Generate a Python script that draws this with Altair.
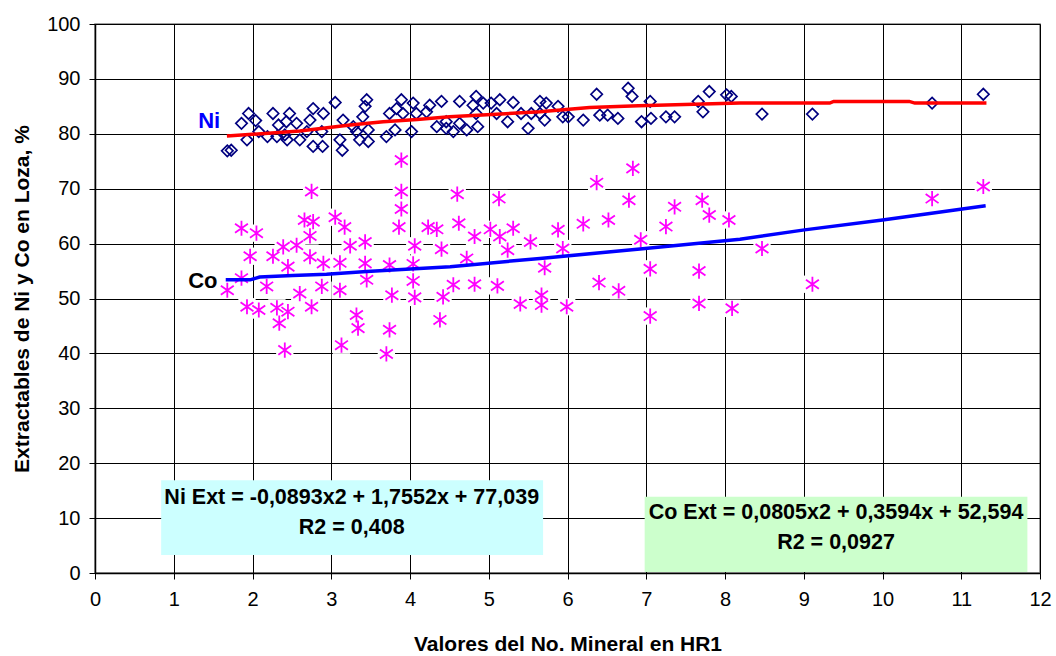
import altair as alt
import pandas as pd

# ---------------- data ----------------
ni_x = [1.68, 1.73, 1.86, 1.95, 2.04, 1.93, 2.08, 2.19, 2.26, 2.33, 2.31, 2.41, 2.47, 2.43, 2.56, 2.44, 2.60,
        2.77, 2.73, 2.90, 2.77, 2.89, 2.69, 2.88, 3.05, 3.15, 3.11, 3.14, 3.28, 3.32, 3.36, 3.47, 3.45, 3.43,
        3.47, 3.40, 3.74, 3.70, 3.89, 3.83, 3.91, 3.81, 4.04, 4.02, 4.08, 4.25, 4.21, 4.34, 4.40, 4.46,
        4.46, 4.55, 4.63, 4.63, 4.72, 4.84, 4.80, 4.84, 4.86, 4.93, 5.03, 5.10, 5.14, 5.24, 5.31, 5.41, 5.50,
        5.54, 5.65, 5.73, 5.65, 5.71, 5.88, 5.94, 6.01, 6.20, 6.37, 6.41, 6.51, 6.64, 6.77, 6.82, 6.94, 7.05,
        7.06, 7.25, 7.36, 7.66, 7.72, 7.80, 8.02, 8.08, 8.47, 9.11, 10.63, 11.28]
ni_y = [76.9, 77.0, 81.9, 83.7, 82.4, 78.9, 80.4, 79.5, 83.7, 81.6, 79.5, 79.8, 83.7, 82.2, 81.9, 78.9, 78.9,
        84.6, 82.5, 83.7, 77.7, 77.7, 80.4, 80.4, 85.7, 82.5, 78.9, 77.0, 81.3, 80.4, 78.9, 78.6, 86.2, 85.0,
        80.7, 83.1, 83.7, 79.5, 86.2, 84.6, 83.7, 80.7, 85.6, 80.4, 83.7, 85.2, 84.0, 81.3, 85.9, 81.0,
        82.2, 80.4, 85.9, 81.9, 80.7, 86.8, 85.2, 83.7, 81.3, 85.6, 85.6, 83.7, 86.2, 82.2, 85.7, 83.7, 81.0,
        83.7, 85.9, 85.6, 83.7, 82.5, 85.0, 83.1, 83.1, 82.5, 87.2, 83.4, 83.4, 82.8, 88.3, 86.8, 82.2, 85.9,
        82.8, 83.1, 83.1, 85.9, 84.0, 87.7, 87.1, 86.8, 83.6, 83.6, 85.6, 87.2]

co_x = [3.89, 2.75, 3.89, 3.89, 3.05, 2.66, 2.77, 1.86, 2.05, 2.73, 3.17, 3.86, 4.34, 4.23, 2.56, 2.39, 3.24,
        3.43, 4.06, 4.40, 1.97, 2.26, 2.73, 3.11, 2.90, 3.43, 3.74, 4.04,
        1.68, 1.86, 2.18, 2.45, 2.60, 1.93, 2.08, 2.31, 2.34, 2.45, 2.41, 2.75, 2.88, 3.11, 3.45, 3.32, 3.34,
        3.13, 3.77, 3.74, 3.70, 4.04, 4.06, 4.38, 4.42,
        6.83, 6.37, 4.60, 5.13, 6.78, 7.36, 7.71, 7.80, 8.05, 4.62, 6.52, 6.20, 7.25, 5.88, 5.31, 5.02, 4.82,
        5.14, 5.53, 5.24, 5.94, 6.93, 4.72, 5.71, 7.05, 7.67,
        4.55, 4.82, 5.11, 6.40, 6.65, 5.40, 5.67, 5.67, 5.99, 7.05, 7.67, 8.09,
        11.28, 10.63, 8.47, 9.11]
co_y = [75.2, 69.5, 69.5, 66.3, 64.8, 64.3, 64.0, 62.8, 61.9, 61.4, 63.0, 63.0, 62.6, 63.0, 59.7, 59.4, 59.6,
        60.3, 59.6, 59.0, 57.7, 57.7, 57.6, 56.5, 56.4, 56.4, 56.1, 56.3,
        51.5, 53.7, 52.2, 55.8, 50.9, 48.5, 47.9, 48.3, 45.5, 47.6, 40.6, 48.5, 52.2, 51.5, 53.4, 47.0, 44.6,
        41.5, 50.6, 44.3, 39.9, 53.2, 50.2, 46.1, 50.3,
        73.7, 71.1, 69.0, 68.2, 67.9, 66.7, 67.9, 65.2, 64.3, 63.7, 64.3, 63.6, 63.1, 62.5, 62.8, 62.6, 61.3,
        61.3, 60.3, 58.8, 59.1, 60.7, 57.3, 55.6, 55.4, 55.0,
        52.5, 52.6, 52.3, 52.9, 51.4, 49.0, 50.6, 48.8, 48.5, 46.8, 49.1, 48.2,
        70.4, 68.2, 59.1, 52.6]

ni_trend_x = [1.675, 2.60, 3.24, 3.66, 4.09, 4.50, 5.65, 6.28, 6.90, 8.19, 9.33, 9.38, 10.34, 10.41, 11.32]
ni_trend_y = [79.6, 80.5, 81.6, 82.2, 82.6, 83.1, 84.0, 84.8, 85.1, 85.6, 85.6, 85.9, 85.9, 85.6, 85.6]

co_trend_x = [1.66, 1.97, 2.09, 2.51, 2.94, 3.45, 3.78, 4.51, 5.65, 6.92, 8.19, 9.01, 10.0, 10.6, 11.31]
co_trend_y = [53.4, 53.4, 53.9, 54.2, 54.4, 54.9, 55.2, 55.8, 57.3, 59.0, 60.8, 62.5, 64.3, 65.5, 66.9]

x_ticks = list(range(0, 13))
y_ticks = list(range(0, 101, 10))

label_text = ["Ni", "Co"]
label_x = [1.45, 1.37]
label_y = [82.3, 53.2]
label_color = ["#0000FF", "#000000"]

box_x1 = [0.84, 6.98]
box_x2 = [5.69, 11.84]
box_y1 = [16.9, 13.9]
box_y2 = [3.3, 0.2]
box_fill = ["#CCFFFF", "#CCFFCC"]

eq_text = ["Ni Ext = -0,0893x2 + 1,7552x + 77,039", "R2 = 0,408",
           "Co Ext = 0,0805x2 + 0,3594x + 52,594", "R2 = 0,0927"]
eq_x = [3.26, 3.26, 9.41, 9.41]
eq_y = [13.7, 8.2, 10.9, 5.5]

FONT = "Liberation Sans, Arial, sans-serif"

# ---------------- frames ----------------
ni_df = pd.DataFrame({"x": ni_x, "y": ni_y})
co_df = pd.DataFrame({"x": co_x, "y": co_y})
ni_tr = pd.DataFrame({"x": ni_trend_x, "y": ni_trend_y})
co_tr = pd.DataFrame({"x": co_trend_x, "y": co_trend_y})
lab_df = pd.DataFrame({"x": label_x, "y": label_y, "t": label_text, "c": label_color})
box_df = pd.DataFrame({"x": box_x1, "x2": box_x2, "y": box_y1, "y2": box_y2, "f": box_fill})
eq_df = pd.DataFrame({"x": eq_x, "y": eq_y, "t": eq_text})

xs = alt.Scale(domain=[0, 12], nice=False, zero=False)
ys = alt.Scale(domain=[0, 100], nice=False, zero=False)

x_axis = alt.Axis(values=x_ticks, format="d", grid=True, gridColor="#000000", gridOpacity=1,
                  gridWidth=1, domainColor="#000000", domainWidth=1.5, tickColor="#000000",
                  tickSize=6, labelFontSize=20, labelPadding=10, labelColor="#000000",
                  labelFlush=False, labelOverlap=False,
                  labelFont=FONT, titleFont=FONT, titleFontSize=21, titleFontWeight="bold",
                  titleColor="#000000", titlePadding=24)
y_axis = alt.Axis(values=y_ticks, format="d", grid=True, gridColor="#000000", gridOpacity=1,
                  gridWidth=1, domainColor="#000000", domainWidth=1.5, tickColor="#000000",
                  tickSize=6, labelFontSize=20, labelPadding=9, labelColor="#000000",
                  labelFlush=False, labelOverlap=False,
                  labelFont=FONT, titleFont=FONT, titleFontSize=21, titleFontWeight="bold",
                  titleColor="#000000", titlePadding=14)

X = alt.X("x:Q", scale=xs, title="Valores del No. Mineral en HR1", axis=x_axis)
Y = alt.Y("y:Q", scale=ys, title="Extractables de Ni y Co en Loza, %", axis=y_axis)

ASTER = "M0,-1L0,1M-0.85,-0.6L0.85,0.6M-0.85,0.6L0.85,-0.6"

halo = alt.Chart(co_df).mark_point(shape="square", filled=True, color="white", size=300, opacity=1).encode(x=X, y=Y)

co_pts = alt.Chart(co_df).mark_point(shape=ASTER, filled=False, color="#FF00FF", size=230,
                                     strokeWidth=1.8, opacity=1).encode(x=X, y=Y)

ni_pts = alt.Chart(ni_df).mark_point(shape="diamond", filled=False, color="#000080", size=130,
                                     strokeWidth=1.7, opacity=1).encode(x=X, y=Y)

ni_line = alt.Chart(ni_tr).mark_line(color="#FF0000", strokeWidth=3.5).encode(x=X, y=Y)
co_line = alt.Chart(co_tr).mark_line(color="#0000FF", strokeWidth=3.5).encode(x=X, y=Y)

labels = alt.Chart(lab_df).mark_text(font=FONT, fontSize=22, fontWeight="bold").encode(
    x=X, y=Y, text="t:N", color=alt.Color("c:N", scale=None))

boxes = alt.Chart(box_df).mark_rect().encode(
    x=X, x2="x2", y=Y, y2="y2", color=alt.Color("f:N", scale=None))

eqs = alt.Chart(eq_df).mark_text(font=FONT, fontSize=21.5, fontWeight="bold", color="#000000").encode(
    x=X, y=Y, text="t:N")

chart = alt.layer(halo, co_pts, ni_pts, ni_line, co_line, labels, boxes, eqs).properties(
    width=945, height=549,
    autosize=alt.AutoSizeParams(type="none"),
    padding={"left": 95, "top": 24, "right": 16, "bottom": 83},
    background="white",
).configure_view(stroke="#808080", strokeWidth=1.5)

chart.save("out.html", embed_options={"renderer": "svg", "actions": False})
